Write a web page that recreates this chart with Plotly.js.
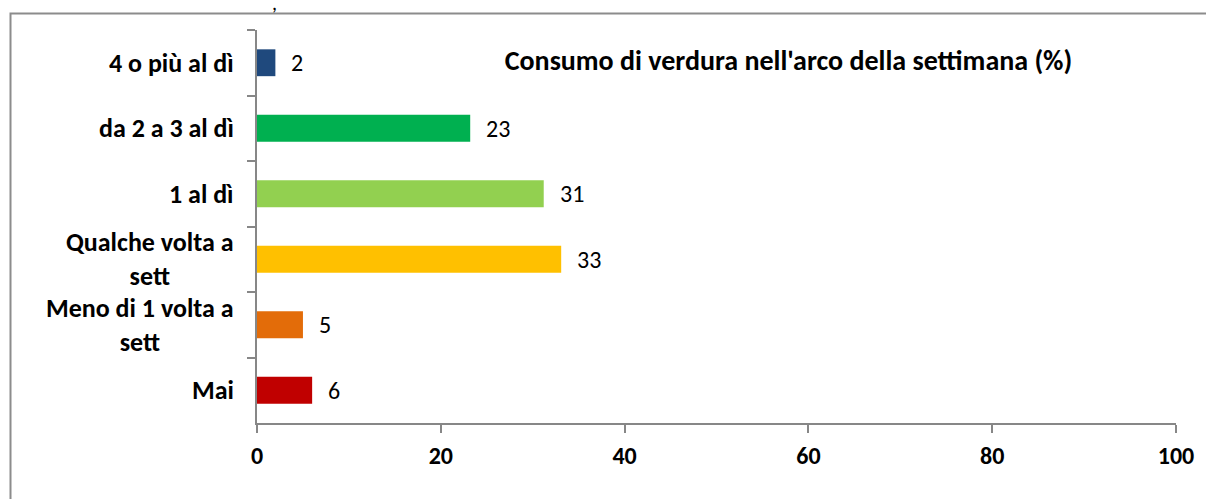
<!DOCTYPE html>
<html>
<head>
<meta charset="utf-8">
<script src="https://cdn.plot.ly/plotly-3.0.1.min.js"></script>
<style>
html,body{margin:0;padding:0;background:#fff;}
#chart{width:1206px;height:499px;}
</style>
</head>
<body>
<div id="chart"></div>
<script>
// Data
var categories = ["4 o più al dì", "da 2 a 3 al dì", "1 al dì", "Qualche volta a sett", "Meno di 1 volta a sett", "Mai"];
var categoryLabels = ["4 o più al dì", "da 2 a 3 al dì", "1 al dì", "Qualche volta a<br>sett", "Meno di 1 volta a<br>sett", "Mai"];
var values = [2, 23.2, 31.2, 33.1, 5, 6];
var valueLabels = ["2", "23", "31", "33", "5", "6"];
var barColors = ["#1F497D", "#00B050", "#92D050", "#FFC000", "#E36C09", "#C00000"];
var xTicks = [0, 20, 40, 60, 80, 100];
var chartTitle = "Consumo di verdura nell'arco della settimana (%)";

var FONT = "Carlito, Lato, 'Open Sans', sans-serif";

var trace = {
  type: "bar",
  orientation: "h",
  y: categories,
  x: values,
  marker: {color: barColors, line: {width: 0}},
  hoverinfo: "none",
  showlegend: false
};

var annotations = [];
for (var i = 0; i < categories.length; i++) {
  annotations.push({
    x: values[i], y: categories[i], xref: "x", yref: "y",
    text: valueLabels[i], showarrow: false,
    xanchor: "left", yanchor: "middle", xshift: 14,
    font: {family: FONT, size: 24, color: "#000"}
  });
}
for (var j = 0; j < categories.length; j++) {
  annotations.push({
    x: 0, y: categories[j], xref: "paper", yref: "y",
    text: "<b>" + categoryLabels[j] + "</b>", showarrow: false,
    xanchor: "right", yanchor: "middle", xshift: -21, align: "center",
    font: {family: FONT, size: 26, color: "#000"}
  });
}
annotations.push({
  x: (274 - 257) / 919, y: 1.0, xref: "paper", yref: "paper",
  text: ",", showarrow: false, xanchor: "center", yanchor: "top", yshift: 41,
  font: {family: FONT, size: 20, color: "#000"}
});

var layout = {
  width: 1206, height: 499,
  margin: {l: 257, r: 30, t: 30, b: 76, pad: 0},
  paper_bgcolor: "#fff", plot_bgcolor: "#fff",
  bargap: 0.59,
  title: {
    text: "<b>" + chartTitle + "</b>",
    xref: "paper", x: (788.5 - 257) / 919, xanchor: "center",
    yref: "container", y: 1 - 60 / 499, yanchor: "middle",
    font: {family: FONT, size: 28, color: "#000"}
  },
  xaxis: {
    range: [0, 100], tickvals: xTicks, ticktext: xTicks.map(function(v){return "<b>" + v + "</b>";}),
    showgrid: false, zeroline: false, showline: true, linecolor: "#878787", linewidth: 2,
    ticks: "outside", ticklen: 8, tickcolor: "#878787", tickwidth: 2,
    ticklabelstandoff: 2,
    tickfont: {family: FONT, size: 24, color: "#000"},
    fixedrange: true
  },
  yaxis: {
    type: "category", autorange: "reversed",
    showticklabels: false, showgrid: false, zeroline: false,
    showline: true, linecolor: "#878787", linewidth: 2,
    ticks: "outside", tickson: "boundaries", ticklen: 8, tickcolor: "#878787", tickwidth: 2,
    fixedrange: true
  },
  annotations: annotations,
  shapes: [{
    type: "rect", xref: "paper", yref: "paper",
    x0: (10.5 - 257) / 919, x1: (1215 - 257) / 919,
    y0: (423 - 510) / 393, y1: (423 - 13.5) / 393,
    line: {color: "#8c8c8c", width: 2}, fillcolor: "rgba(0,0,0,0)", layer: "below"
  }]
};

Plotly.newPlot("chart", [trace], layout, {displayModeBar: false, staticPlot: true});
</script>
</body>
</html>
